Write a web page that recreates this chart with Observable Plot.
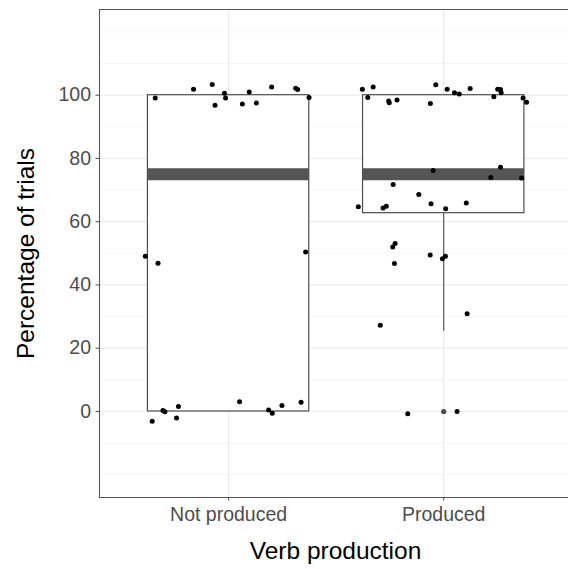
<!DOCTYPE html>
<html><head><meta charset="utf-8">
<script src="https://cdn.jsdelivr.net/npm/d3@7"></script>
<script src="https://cdn.jsdelivr.net/npm/@observablehq/plot@0.6"></script>
<style>
html,body{margin:0;padding:0;background:#fff;overflow:hidden}
#chart svg{display:block;font-family:"Liberation Sans",Arial,sans-serif;background:#fff}
</style></head><body><div id="chart"></div>
<script>
const categories = ["Not produced", "Produced"];
const yTicks = [0, 20, 40, 60, 80, 100];
const yMinorGrid = [-20, -10, 10, 30, 50, 70, 90, 110, 120];
const boxQ1 = [0, 62.7];
const boxMedian = [75, 75];
const boxQ3 = [100, 100];
const whiskerLow = [0, 25.4];
const whiskerHigh = [100, 100];
const outlierCategory = [2];
const outlierValue = [0];

const notProducedJitter = [-0.341, -0.163, -0.076, -0.063, -0.019, -0.014, 0.064, 0.096, 0.129, 0.200, 0.312, 0.321, 0.374,
  -0.387, -0.328, 0.358,
  -0.355, -0.305, -0.296, -0.233, -0.242, 0.051, 0.186, 0.203, 0.248, 0.337];
const notProducedValue = [99.1, 101.9, 103.4, 96.8, 100.6, 99.1, 97.2, 101.0, 97.5, 102.6, 102.2, 101.8, 99.3,
  49.1, 46.9, 50.4,
  -3.1, 0.3, -0.1, 1.6, -2.1, 3.1, 0.5, -0.6, 1.9, 2.9];

const producedJitter = [-0.378, -0.328, -0.353, -0.256, -0.253, -0.217, -0.062, -0.037, 0.016, 0.050, 0.072, 0.123, 0.233, 0.251, 0.264, 0.267, 0.369, 0.385,
  -0.049, 0.264, 0.219, 0.362, -0.235, -0.116, -0.397, -0.282, -0.267, -0.059, 0.009, 0.105,
  -0.237, -0.226, -0.229, -0.063, -0.006, 0.008, 0.109, -0.295, -0.167, 0.062];
const producedValue = [101.9, 102.6, 99.3, 98.2, 97.6, 98.5, 97.4, 103.3, 101.9, 100.8, 100.4, 102.1, 99.5, 101.9, 101.8, 100.8, 99.1, 97.8,
  76.2, 77.2, 74.0, 73.8, 71.8, 68.6, 64.7, 64.3, 64.9, 65.7, 64.1, 65.9,
  52.0, 53.1, 46.8, 49.5, 48.3, 49.1, 30.9, 27.3, -0.7, 0.0];

const boxWidth = 0.75;
const boxes = categories.map((c, i) => ({
  x: i + 1, q1: boxQ1[i], med: boxMedian[i], q3: boxQ3[i], lo: whiskerLow[i], hi: whiskerHigh[i]
}));
const points = [
  ...notProducedJitter.map((j, i) => ({x: 1 + j, y: notProducedValue[i]})),
  ...producedJitter.map((j, i) => ({x: 2 + j, y: producedValue[i]}))
];
const outliers = outlierCategory.map((c, i) => ({x: c, y: outlierValue[i]}));

const yDomain = [-27.2, 127.1];
const xDomain = [0.4, 2.58];
const font = "'Liberation Sans', Arial, sans-serif";

const chart = Plot.plot({
  width: 568,
  height: 569,
  marginLeft: 99,
  marginRight: 0,
  marginTop: 9,
  marginBottom: 72,
  x: {domain: xDomain},
  y: {domain: yDomain},
  style: {fontFamily: font},
  marks: [
    Plot.ruleY(yMinorGrid, {stroke: "#f2f2f2", strokeWidth: 0.7}),
    Plot.ruleY(yTicks, {stroke: "#ebebeb", strokeWidth: 1.2}),
    Plot.ruleX([1, 2], {stroke: "#ebebeb", strokeWidth: 1.2}),
    Plot.ruleX(boxes, {x: "x", y1: "lo", y2: "hi", stroke: "#4d4d4d", strokeWidth: 1.1}),
    Plot.rect(boxes, {x1: d => d.x - boxWidth / 2, x2: d => d.x + boxWidth / 2, y1: "q1", y2: "q3", fill: "white", stroke: "#4d4d4d", strokeWidth: 1.2}),
    Plot.ruleY(boxes, {x1: d => d.x - boxWidth / 2, x2: d => d.x + boxWidth / 2, y: "med", stroke: "#555555", strokeWidth: 12}),
    Plot.dot(outliers, {x: "x", y: "y", r: 2.6, fill: "#4a4a4a", stroke: "none"}),
    Plot.dot(points, {x: "x", y: "y", r: 2.5, fill: "black", stroke: "none"}),
    Plot.ruleX([xDomain[0]], {stroke: "#555", strokeWidth: 1.1}),
    Plot.ruleY(yDomain, {stroke: "#555", strokeWidth: 1.1}),
    Plot.axisX({ticks: [1, 2], tickFormat: d => categories[d - 1], tickSize: 3.5, tickPadding: 6, fontSize: 19.5, color: "#4d4d4d", label: null}),
    Plot.axisY({ticks: yTicks, tickSize: 3.5, tickPadding: 5, fontSize: 19.5, color: "#4d4d4d", label: null}),
    Plot.text(["Verb production"], {frameAnchor: "bottom", dy: 53.5, dx: 1.5, fontSize: 24.5, fill: "black", textAnchor: "middle", lineAnchor: "middle"}),
    Plot.text(["Percentage of trials"], {frameAnchor: "left", dx: -73.5, rotate: -90, fontSize: 24.5, fill: "black", textAnchor: "middle", lineAnchor: "middle"})
  ]
});
document.getElementById("chart").append(chart);
</script></body></html>
